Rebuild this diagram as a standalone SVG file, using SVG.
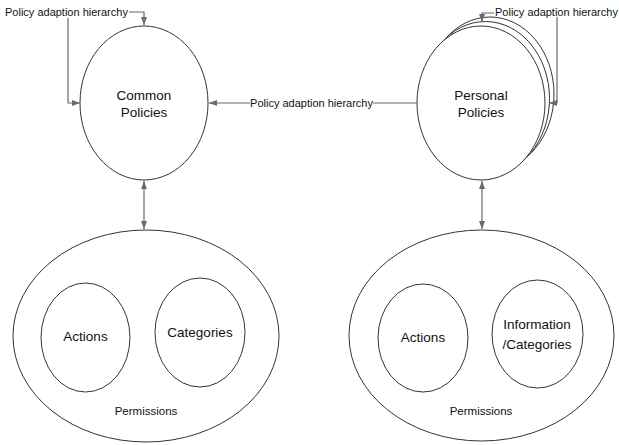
<svg xmlns="http://www.w3.org/2000/svg" width="619" height="445" viewBox="0 0 619 445">
<style>
.shape{fill:#fff;stroke:#333;stroke-width:1}
.conn{fill:none;stroke:#6a6a6a;stroke-width:1.2}
.t{font-family:"Liberation Sans",Arial,sans-serif;fill:#111;text-anchor:middle}
.big{font-size:13.5px}
.small{font-size:11.5px}
.lbl{font-family:"Liberation Sans",Arial,sans-serif;font-size:11px;fill:#111}
</style>
<defs>
<marker id="arr" viewBox="0 0 8 6" refX="8" refY="3" markerWidth="8" markerHeight="6" markerUnits="userSpaceOnUse" orient="auto-start-reverse">
<path d="M0,0 L8,3 L0,6 z" fill="#6a6a6a"/>
</marker>
</defs>
<rect width="619" height="445" fill="#fff"/>
<g id="common-policies">
<ellipse class="shape" cx="144" cy="103" rx="64" ry="77"/>
<text class="t big" x="144" y="100">Common</text>
<text class="t big" x="144" y="117">Policies</text>
</g>
<g id="personal-policies">
<ellipse class="shape" cx="490" cy="94" rx="64" ry="77"/>
<ellipse class="shape" cx="485.5" cy="98.5" rx="64" ry="77"/>
<ellipse class="shape" cx="481" cy="103" rx="64" ry="77"/>
<text class="t big" x="481" y="100">Personal</text>
<text class="t big" x="481" y="117">Policies</text>
</g>
<g id="permissions-left">
<ellipse class="shape" cx="146" cy="336" rx="133" ry="106"/>
<text class="t small" x="146" y="415">Permissions</text>
</g>
<g id="actions-left">
<ellipse class="shape" cx="85.5" cy="337.5" rx="44.5" ry="54.5"/>
<text class="t big" x="85.5" y="341">Actions</text>
</g>
<g id="categories-left">
<ellipse class="shape" cx="200" cy="332.5" rx="45" ry="54.5"/>
<text class="t big" x="200" y="337">Categories</text>
</g>
<g id="permissions-right">
<ellipse class="shape" cx="481.5" cy="335.5" rx="132.5" ry="105.5"/>
<text class="t small" x="481" y="415">Permissions</text>
</g>
<g id="actions-right">
<ellipse class="shape" cx="423" cy="338" rx="45" ry="54"/>
<text class="t big" x="423" y="342">Actions</text>
</g>
<g id="information-categories">
<ellipse class="shape" cx="537.5" cy="334" rx="45.5" ry="54"/>
<text class="t big" x="537" y="329">Information</text>
<text class="t big" x="537" y="349">/Categories</text>
</g>
<g id="connectors">
<polyline class="conn" points="129,12 144,12 144,25" marker-end="url(#arr)"/>
<polyline class="conn" points="68,18 68,103 80,103" marker-end="url(#arr)"/>
<text class="lbl" x="5" y="16">Policy adaption hierarchy</text>
<line class="conn" x1="417" y1="103" x2="373" y2="103"/>
<line class="conn" x1="250" y1="103" x2="209" y2="103" marker-end="url(#arr)"/>
<text class="lbl" x="311.5" y="107" text-anchor="middle">Policy adaption hierarchy</text>
<polyline class="conn" points="494,13 482,13 482,22" marker-end="url(#arr)"/>
<polyline class="conn" points="557,17 557,103 549,103" marker-end="url(#arr)"/>
<text class="lbl" x="495" y="16">Policy adaption hierarchy</text>
<line class="conn" x1="144" y1="181" x2="144" y2="229" marker-start="url(#arr)" marker-end="url(#arr)"/>
<line class="conn" x1="482" y1="181" x2="482" y2="229" marker-start="url(#arr)" marker-end="url(#arr)"/>
</g>
</svg>
